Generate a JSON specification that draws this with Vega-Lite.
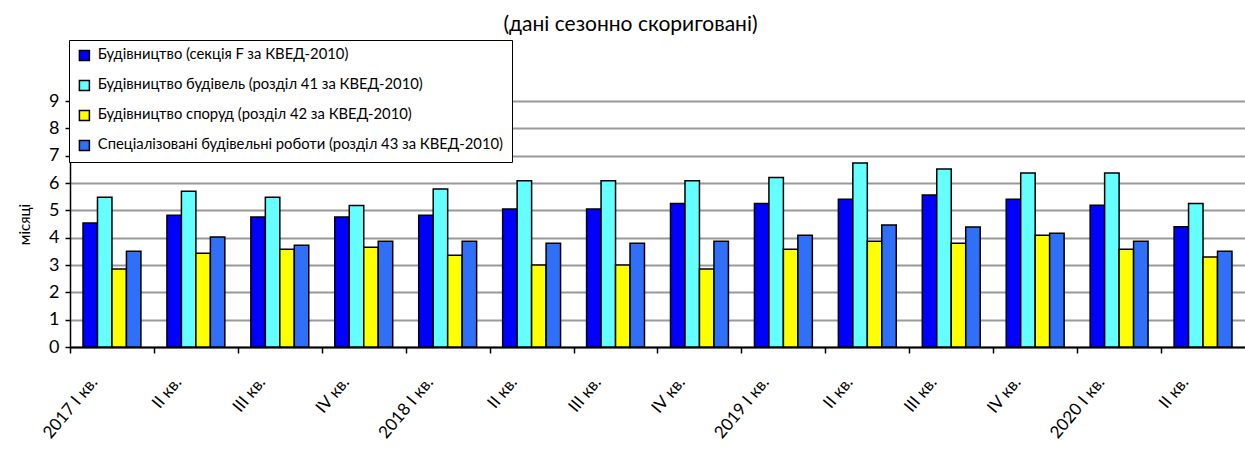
{
  "$schema": "https://vega.github.io/schema/vega-lite/v6.json",
  "autosize": {"type": "none"},
  "padding": {"left": 70, "top": 101, "right": 0, "bottom": 103},
  "width": 1175,
  "height": 246,
  "background": "white",
  "title": {"text": "(дані сезонно скориговані)", "font": "Lato", "fontSize": 21, "fontWeight": "normal", "color": "black", "anchor": "middle", "dx": -27, "offset": 5},
  "config": {
    "view": {"stroke": null},
    "font": "Lato"
  },
  "data": {"values": [
    {"q": "2017 I кв.", "s": "Будівництво (секція F за КВЕД-2010)", "v": 4.54},
    {"q": "2017 I кв.", "s": "Будівництво будівель (розділ 41 за КВЕД-2010)", "v": 5.48},
    {"q": "2017 I кв.", "s": "Будівництво споруд (розділ 42 за КВЕД-2010)", "v": 2.85},
    {"q": "2017 I кв.", "s": "Спеціалізовані будівельні роботи (розділ 43 за КВЕД-2010)", "v": 3.5},
    {"q": "2017 II кв.", "s": "Будівництво (секція F за КВЕД-2010)", "v": 4.82},
    {"q": "2017 II кв.", "s": "Будівництво будівель (розділ 41 за КВЕД-2010)", "v": 5.7},
    {"q": "2017 II кв.", "s": "Будівництво споруд (розділ 42 за КВЕД-2010)", "v": 3.43},
    {"q": "2017 II кв.", "s": "Спеціалізовані будівельні роботи (розділ 43 за КВЕД-2010)", "v": 4.02},
    {"q": "2017 III кв.", "s": "Будівництво (секція F за КВЕД-2010)", "v": 4.76},
    {"q": "2017 III кв.", "s": "Будівництво будівель (розділ 41 за КВЕД-2010)", "v": 5.48},
    {"q": "2017 III кв.", "s": "Будівництво споруд (розділ 42 за КВЕД-2010)", "v": 3.58},
    {"q": "2017 III кв.", "s": "Спеціалізовані будівельні роботи (розділ 43 за КВЕД-2010)", "v": 3.72},
    {"q": "2017 IV кв.", "s": "Будівництво (секція F за КВЕД-2010)", "v": 4.76},
    {"q": "2017 IV кв.", "s": "Будівництво будівель (розділ 41 за КВЕД-2010)", "v": 5.18},
    {"q": "2017 IV кв.", "s": "Будівництво споруд (розділ 42 за КВЕД-2010)", "v": 3.65},
    {"q": "2017 IV кв.", "s": "Спеціалізовані будівельні роботи (розділ 43 за КВЕД-2010)", "v": 3.87},
    {"q": "2018 I кв.", "s": "Будівництво (секція F за КВЕД-2010)", "v": 4.82},
    {"q": "2018 I кв.", "s": "Будівництво будівель (розділ 41 за КВЕД-2010)", "v": 5.78},
    {"q": "2018 I кв.", "s": "Будівництво споруд (розділ 42 за КВЕД-2010)", "v": 3.36},
    {"q": "2018 I кв.", "s": "Спеціалізовані будівельні роботи (розділ 43 за КВЕД-2010)", "v": 3.87},
    {"q": "2018 II кв.", "s": "Будівництво (секція F за КВЕД-2010)", "v": 5.05},
    {"q": "2018 II кв.", "s": "Будівництво будівель (розділ 41 за КВЕД-2010)", "v": 6.08},
    {"q": "2018 II кв.", "s": "Будівництво споруд (розділ 42 за КВЕД-2010)", "v": 3.0},
    {"q": "2018 II кв.", "s": "Спеціалізовані будівельні роботи (розділ 43 за КВЕД-2010)", "v": 3.8},
    {"q": "2018 III кв.", "s": "Будівництво (секція F за КВЕД-2010)", "v": 5.05},
    {"q": "2018 III кв.", "s": "Будівництво будівель (розділ 41 за КВЕД-2010)", "v": 6.08},
    {"q": "2018 III кв.", "s": "Будівництво споруд (розділ 42 за КВЕД-2010)", "v": 3.0},
    {"q": "2018 III кв.", "s": "Спеціалізовані будівельні роботи (розділ 43 за КВЕД-2010)", "v": 3.8},
    {"q": "2018 IV кв.", "s": "Будівництво (секція F за КВЕД-2010)", "v": 5.25},
    {"q": "2018 IV кв.", "s": "Будівництво будівель (розділ 41 за КВЕД-2010)", "v": 6.08},
    {"q": "2018 IV кв.", "s": "Будівництво споруд (розділ 42 за КВЕД-2010)", "v": 2.85},
    {"q": "2018 IV кв.", "s": "Спеціалізовані будівельні роботи (розділ 43 за КВЕД-2010)", "v": 3.87},
    {"q": "2019 I кв.", "s": "Будівництво (секція F за КВЕД-2010)", "v": 5.25},
    {"q": "2019 I кв.", "s": "Будівництво будівель (розділ 41 за КВЕД-2010)", "v": 6.2},
    {"q": "2019 I кв.", "s": "Будівництво споруд (розділ 42 за КВЕД-2010)", "v": 3.58},
    {"q": "2019 I кв.", "s": "Спеціалізовані будівельні роботи (розділ 43 за КВЕД-2010)", "v": 4.09},
    {"q": "2019 II кв.", "s": "Будівництво (секція F за КВЕД-2010)", "v": 5.41},
    {"q": "2019 II кв.", "s": "Будівництво будівель (розділ 41 за КВЕД-2010)", "v": 6.73},
    {"q": "2019 II кв.", "s": "Будівництво споруд (розділ 42 за КВЕД-2010)", "v": 3.87},
    {"q": "2019 II кв.", "s": "Спеціалізовані будівельні роботи (розділ 43 за КВЕД-2010)", "v": 4.46},
    {"q": "2019 III кв.", "s": "Будівництво (секція F за КВЕД-2010)", "v": 5.56},
    {"q": "2019 III кв.", "s": "Будівництво будівель (розділ 41 за КВЕД-2010)", "v": 6.51},
    {"q": "2019 III кв.", "s": "Будівництво споруд (розділ 42 за КВЕД-2010)", "v": 3.8},
    {"q": "2019 III кв.", "s": "Спеціалізовані будівельні роботи (розділ 43 за КВЕД-2010)", "v": 4.39},
    {"q": "2019 IV кв.", "s": "Будівництво (секція F за КВЕД-2010)", "v": 5.41},
    {"q": "2019 IV кв.", "s": "Будівництво будівель (розділ 41 за КВЕД-2010)", "v": 6.37},
    {"q": "2019 IV кв.", "s": "Будівництво споруд (розділ 42 за КВЕД-2010)", "v": 4.09},
    {"q": "2019 IV кв.", "s": "Спеціалізовані будівельні роботи (розділ 43 за КВЕД-2010)", "v": 4.16},
    {"q": "2020 I кв.", "s": "Будівництво (секція F за КВЕД-2010)", "v": 5.19},
    {"q": "2020 I кв.", "s": "Будівництво будівель (розділ 41 за КВЕД-2010)", "v": 6.37},
    {"q": "2020 I кв.", "s": "Будівництво споруд (розділ 42 за КВЕД-2010)", "v": 3.58},
    {"q": "2020 I кв.", "s": "Спеціалізовані будівельні роботи (розділ 43 за КВЕД-2010)", "v": 3.87},
    {"q": "2020 II кв.", "s": "Будівництво (секція F за КВЕД-2010)", "v": 4.4},
    {"q": "2020 II кв.", "s": "Будівництво будівель (розділ 41 за КВЕД-2010)", "v": 5.25},
    {"q": "2020 II кв.", "s": "Будівництво споруд (розділ 42 за КВЕД-2010)", "v": 3.29},
    {"q": "2020 II кв.", "s": "Спеціалізовані будівельні роботи (розділ 43 за КВЕД-2010)", "v": 3.5}
  ]},
  "mark": {"type": "bar", "stroke": "black", "strokeWidth": 1.5},
  "encoding": {
    "x": {
      "field": "q", "type": "nominal", "sort": null,
      "scale": {"paddingInner": 0.31, "paddingOuter": 0.155},
      "axis": {
        "title": null,
        "labelExpr": "indexof(datum.value, ' I кв.') > 0 ? datum.value : substring(datum.value, 5)",
        "labelAngle": -50, "labelAlign": "right", "labelBaseline": "middle",
        "labelFont": "Lato", "labelFontSize": 17, "labelColor": "black", "labelPadding": 26,
        "labelOffset": 24,
        "domainColor": "black", "domainWidth": 2,
        "tickOffset": -42,
        "tickColor": "black", "tickWidth": 1.5, "tickSize": 6,
        "grid": false
      }
    },
    "xOffset": {"field": "s", "type": "nominal"},
    "y": {
      "field": "v", "type": "quantitative",
      "scale": {"domain": [0, 9], "nice": false},
      "axis": {
        "title": "місяці", "titleFont": "Lato", "titleFontSize": 15, "titleFontWeight": "normal", "titleColor": "black", "titlePadding": 16,
        "values": [0, 1, 2, 3, 4, 5, 6, 7, 8, 9],
        "labelFont": "Lato", "labelFontSize": 18, "labelColor": "black", "labelPadding": 6,
        "domainColor": "black", "domainWidth": 1.5,
        "tickColor": "black", "tickWidth": 1.5, "tickSize": 5,
        "grid": true, "gridColor": "#999999", "gridWidth": 2
      }
    },
    "color": {
      "field": "s", "type": "nominal",
      "scale": {
        "domain": ["Будівництво (секція F за КВЕД-2010)", "Будівництво будівель (розділ 41 за КВЕД-2010)", "Будівництво споруд (розділ 42 за КВЕД-2010)", "Спеціалізовані будівельні роботи (розділ 43 за КВЕД-2010)"],
        "range": ["#0000FF", "#66FFFF", "#FFFF00", "#3070F8"]
      },
      "legend": {
        "title": null, "orient": "none", "legendX": -1, "legendY": -61, "direction": "vertical",
        "strokeColor": "black", "fillColor": "white", "padding": 8,
        "labelFont": "Lato", "labelFontSize": 14.8, "labelColor": "black", "labelLimit": 0, "labelOffset": 6,
        "symbolType": "square", "symbolSize": 100, "symbolStrokeColor": "black", "symbolStrokeWidth": 1.5,
        "rowPadding": 13
      }
    }
  }
}
